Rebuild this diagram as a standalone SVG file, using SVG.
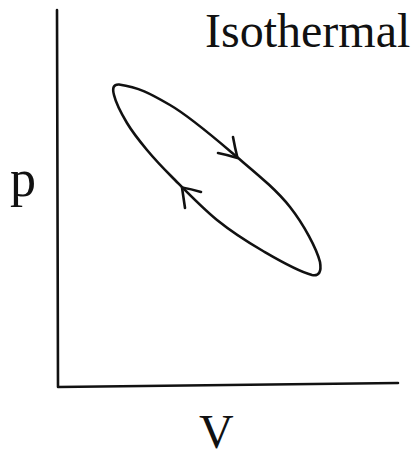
<svg xmlns="http://www.w3.org/2000/svg" width="420" height="459" viewBox="0 0 420 459">
<style>
.ln{fill:none;stroke:#111;stroke-width:2.6;stroke-linecap:round;stroke-linejoin:round}
.t{font-family:"Liberation Serif","DejaVu Serif",serif;fill:#111}
</style>
<rect width="420" height="459" fill="#fff"/>
<g id="axes">
<path class="ln" d="M57 10 L58 387 L398 383"/>
</g>
<g id="cycle">
<path class="ln" d="M119 84.5 C139 87.5 149.3 93 170 105 C190.7 117 217 140 237 157 C257 174 276.2 189.5 290 207 C303.8 224.5 316.7 248.7 320 262 Q322.5 277 312 275 C297 271 278.8 260.2 263 251 C247.2 241.8 232.2 232.3 217 220 C201.8 207.7 183.7 188.7 172 177 C160.3 165.3 154.5 159 147 150 C139.5 141 132.5 132.2 127 123 C121.5 113.8 116 103.3 114 95 Q111 84 119 84.5 Z"/>
</g>
<g id="connectors">
<path class="ln" d="M233 137 Q235 148 237.5 158 Q228 155 218 153"/>
<path class="ln" d="M201 192 Q191 189 182 187.5 Q183.5 198 185 208"/>
</g>
<g id="labels">
<text class="t" x="205" y="47" font-size="48">Isothermal</text>
<text class="t" x="10" y="196" font-size="52">p</text>
<text class="t" x="199" y="448" font-size="48">V</text>
</g>
</svg>
